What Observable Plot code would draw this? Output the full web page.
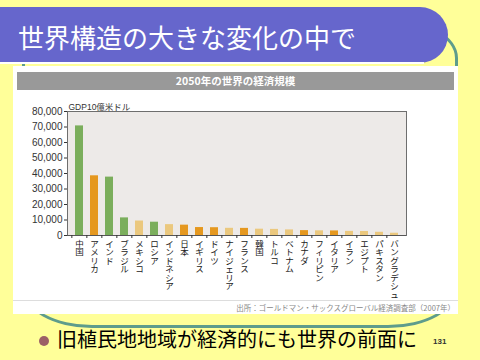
<!DOCTYPE html>
<html>
<head>
<meta charset="utf-8">
<script src="https://cdn.jsdelivr.net/npm/d3@7"></script>
<script src="https://cdn.jsdelivr.net/npm/@observablehq/plot@0.6"></script>
<style>
  html, body { margin: 0; padding: 0; }
  body { width: 480px; height: 360px; background: #FFFF99; position: relative; overflow: hidden;
         font-family: "Noto Sans CJK JP", sans-serif; }
  .abs { position: absolute; }
</style>
</head>
<body>
<div class="abs" style="left:22px;top:18px;width:430px;height:304px;border:3px solid #5E9C8C;border-radius:70px/40px;"></div>
<div class="abs" style="left:0;top:7px;width:448px;height:56px;background:#6666CC;border-radius:0 30px 30px 0;"></div>
<div class="abs" style="left:18px;top:7px;height:56px;line-height:60px;font-size:26px;color:#fff;white-space:nowrap;">世界構造の大きな変化の中で</div>
<div class="abs" style="left:0;top:62px;width:424px;height:2px;background:#fff;"></div>
<div class="abs" style="left:13px;top:66px;width:445px;height:248px;background:#fff;"></div>
<div class="abs" style="left:17px;top:72px;width:437px;height:18px;background:#999;color:#fff;font-weight:bold;font-size:10.5px;line-height:18px;text-align:center;">2050年の世界の経済規模</div>
<div id="chart" class="abs" style="left:13px;top:95px;"></div>
<div class="abs" style="left:13px;top:300px;width:445px;height:1px;background:#ddd;"></div>
<div class="abs" style="right:25px;top:303px;font-size:7.5px;line-height:10px;color:#888;white-space:nowrap;">出所：ゴールドマン・サックスグローバル経済調査部（2007年）</div>
<div class="abs" style="left:39px;top:336px;width:10px;height:10px;border-radius:50%;background:#9C6066;"></div>
<div class="abs" style="left:57px;top:326px;font-size:20px;line-height:26px;color:#000;white-space:nowrap;">旧植民地地域が経済的にも世界の前面に</div>
<div class="abs" style="left:433px;top:337px;font-size:8px;line-height:10px;font-weight:bold;color:#333;font-family:'Liberation Sans',sans-serif;">131</div>
<script>
const countries = ["中国","アメリカ","インド","ブラジル","メキシコ","ロシア","インドネシア","日本","イギリス","ドイツ","ナイジェリア","フランス","韓国","トルコ","ベトナム","カナダ","フィリピン","イタリア","イラン","エジプト","パキスタン","バングラデシュ"];
const gdp = [70710, 38514, 37668, 11366, 9340, 8580, 7010, 6677, 5133, 5024, 4640, 4592, 4083, 3943, 3607, 3149, 3010, 2950, 2663, 2602, 2085, 1466];
const groups = ["BRICs","G7","BRICs","BRICs","N11","BRICs","N11","G7","G7","G7","N11","G7","N11","N11","N11","G7","N11","G7","N11","N11","N11","N11"];
const yTicks = [0, 10000, 20000, 30000, 40000, 50000, 60000, 70000, 80000];
const groupNames = ["BRICs", "G7", "N11"];
const groupColors = ["#7BAE5C", "#E5981F", "#EBC87E"];
const yLabel = "GDP10億米ドル";

const data = countries.map((c, i) => ({country: c, value: gdp[i], group: groups[i]}));

const W = 445, H = 207, mL = 54, mR = 52, mT = 16, mB = 67;
const pIn = 0.45, pOut = 0.3;
const step = (W - mL - mR) / (countries.length - pIn + 2 * pOut);

const chart = Plot.plot({
  width: W, height: H, marginTop: mT, marginLeft: mL, marginRight: mR, marginBottom: mB,
  style: {background: "transparent", fontFamily: "'Liberation Sans','Noto Sans CJK JP',sans-serif", fontSize: "10px", color: "#333"},
  x: {domain: countries, paddingInner: pIn, paddingOuter: pOut, label: null, axis: null},
  y: {domain: [0, 80000], label: null, axis: null},
  color: {domain: groupNames, range: groupColors},
  marks: [
    Plot.frame({fill: "#EDEAE8", stroke: "#6E6E6E"}),
    Plot.barY(data, {x: "country", y: "value", fill: "group"}),
    Plot.ruleY([0], {stroke: "#555"}),
    Plot.axisY({ticks: yTicks, tickFormat: d3.format(","), tickSize: 3, tickPadding: 2, label: null, fontSize: 10}),
    Plot.axisX({tickSize: 3, tickFormat: () => "", dx: -step / 2, label: null}),
    Plot.axisX({tickSize: 0, tickPadding: 5, tickFormat: d => [...d].join("\n"), lineHeight: 1, fontSize: 8.5, label: null, fill: "#222"}),
    Plot.text([yLabel], {frameAnchor: "top-left", dy: -8, dx: 1, textAnchor: "start", fontSize: 8.5, fill: "#333"})
  ]
});
document.getElementById("chart").appendChild(chart);
</script>
</body>
</html>
